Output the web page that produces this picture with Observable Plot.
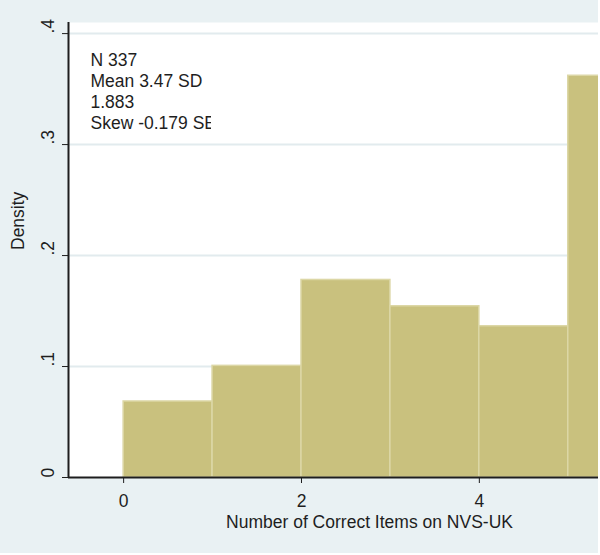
<!DOCTYPE html>
<html>
<head>
<meta charset="utf-8">
<script src="https://cdn.jsdelivr.net/npm/d3@7"></script>
<script src="https://cdn.jsdelivr.net/npm/@observablehq/plot@0.6"></script>
<style>
  html, body { margin: 0; padding: 0; background: #ffffff; }
  #chart svg { display: block; }
</style>
</head>
<body>
<div id="chart"></div>
<script>
// Histogram bins (number of correct items) and densities
const binStart = [0, 1, 2, 3, 4, 5];
const binEnd   = [1, 2, 3, 4, 5, 6];
const density  = [0.0685, 0.1006, 0.178, 0.1543, 0.1363, 0.362];

// Axis ticks and labels
const xTicks = [0, 2, 4];
const yTicks = [0, 0.1, 0.2, 0.3, 0.4];
const gridTicks = [0.1, 0.2, 0.3, 0.4];
const xLabel = "Number of Correct Items on NVS-UK";
const yLabel = "Density";

// Summary statistics box text
const statLines = ["N 337", "Mean 3.47 SD", "1.883", "Skew -0.179 SE"];

// Visible scale windows (the reference image is cropped on the right)
const xDomain = [-0.62, 5.34];
const yDomain = [0, 0.41];

const bins = binStart.map((s, i) => ({x1: s, x2: binEnd[i], y: density[i]}));
const fmtY = d => d === 0 ? "0" : String(d).replace(/^0/, "");
const font = "'Liberation Sans', Arial, Helvetica, sans-serif";
const FS = 17.5;

const chart = Plot.plot({
  width: 598,
  height: 553,
  marginLeft: 68,
  marginRight: 0,
  marginTop: 22,
  marginBottom: 76,
  x: {domain: xDomain},
  y: {domain: yDomain},
  style: {background: "#e9f1f3", fontFamily: font, fontSize: FS + "px", color: "#1e1e1e"},
  marks: [
    Plot.frame({fill: "#ffffff", stroke: null}),
    Plot.ruleY(gridTicks, {y: d => d, stroke: "#e2ebee", strokeWidth: 2}),
    Plot.rectY(bins, {x1: "x1", x2: "x2", y: "y", fill: "#c9c17e", stroke: "#dcd7a6", strokeWidth: 1.5, clip: true}),
    Plot.ruleY([0], {stroke: "#1e1e1e", strokeWidth: 2}),
    Plot.ruleX([xDomain[0]], {stroke: "#1e1e1e", strokeWidth: 2}),
    Plot.axisX({ticks: xTicks, tickSize: 6, tickPadding: 11, label: null, fontSize: FS, tickFormat: d => String(d)}),
    Plot.axisY({ticks: yTicks, tickSize: 6, tickFormat: () => "", label: null}),
    Plot.text(yTicks, {y: d => d, text: fmtY, frameAnchor: "left", dx: -20, rotate: -90, fontSize: FS, fill: "#1e1e1e"}),
    Plot.text([yLabel], {text: d => d, frameAnchor: "left", dx: -50, rotate: -90, fontSize: FS, fill: "#1e1e1e"}),
    Plot.text([xLabel], {text: d => d, frameAnchor: "bottom", dx: 36, dy: 38, lineAnchor: "top", fontSize: FS, fill: "#1e1e1e"}),
    Plot.text([statLines.join("\n")], {text: d => d, frameAnchor: "top-left", dx: 22, dy: 29, textAnchor: "start", lineAnchor: "top", lineHeight: 1.2, fontSize: FS, fill: "#1e1e1e"})
  ]
});

// Clip the statistics box on its right side, as in the original text box
const svg = d3.select(chart);
const defs = svg.insert("defs", ":first-child");
defs.append("clipPath").attr("id", "statclip").attr("clipPathUnits", "userSpaceOnUse")
  .append("rect").attr("x", 0).attr("y", 0).attr("width", 211).attr("height", 553);
const statText = svg.selectAll("text")
  .filter(function () { return this.textContent.startsWith(statLines[0]); })
  .node();
if (statText) {
  const wrapper = svg.append("g").attr("clip-path", "url(#statclip)");
  wrapper.node().appendChild(statText.parentNode);
}

document.getElementById("chart").appendChild(chart);
</script>
</body>
</html>
